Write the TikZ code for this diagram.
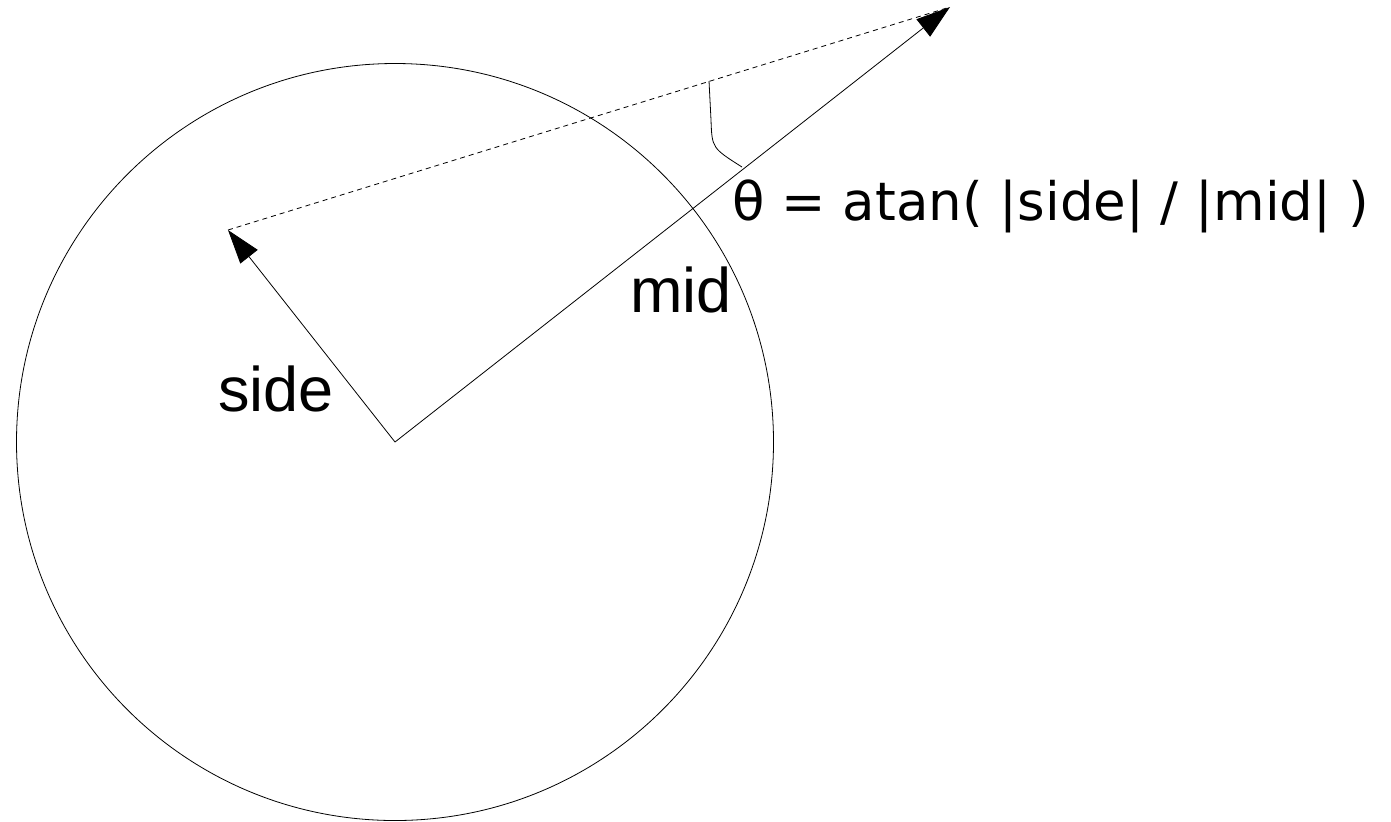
\documentclass[tikz,border=0pt]{standalone}
\usepackage{fontspec}
\setmainfont{Liberation Sans}
\newfontfamily\formulafont{DejaVu Sans}
\usetikzlibrary{arrows.meta, positioning, calc}

\begin{document}
\begin{tikzpicture}[x=0.5pt, y=-0.5pt,
        vec/.style={-{Triangle[length=17pt, width=11pt]}},
        guide/.style={dash pattern=on 2.5pt off 2pt},
        lbl/.style={anchor=base west, inner sep=0pt, font=\fontsize{31.5}{36}\selectfont}]
        \useasboundingbox (0,0) rectangle (1391,821);
        % Circle
        \coordinate (O) at (395,442);
        \draw (O) circle[radius=189.25pt];
        % Vectors
        \coordinate (S) at (228,230);
        \coordinate (M) at (950,7);
        \draw[vec] (O) -- (S);
        \draw[vec] (O) -- (M);
        \draw[guide] (S) -- (M);
        % Angle
        \coordinate (A1) at (709,81);
        \coordinate (A2) at (742,167);
        \draw (A1) -- (711,120) .. controls (712,148) .. (A2);
        % Labels
        \node[lbl] (side) at (218,411) {side};
        \node[lbl] (mid) at (630,312) {mid};
        \node[lbl, font=\formulafont\fontsize{26.5}{32}\selectfont] (theta) at (732,220)
              {θ = atan( |side| / |mid| )};
    \end{tikzpicture}
\end{document}
